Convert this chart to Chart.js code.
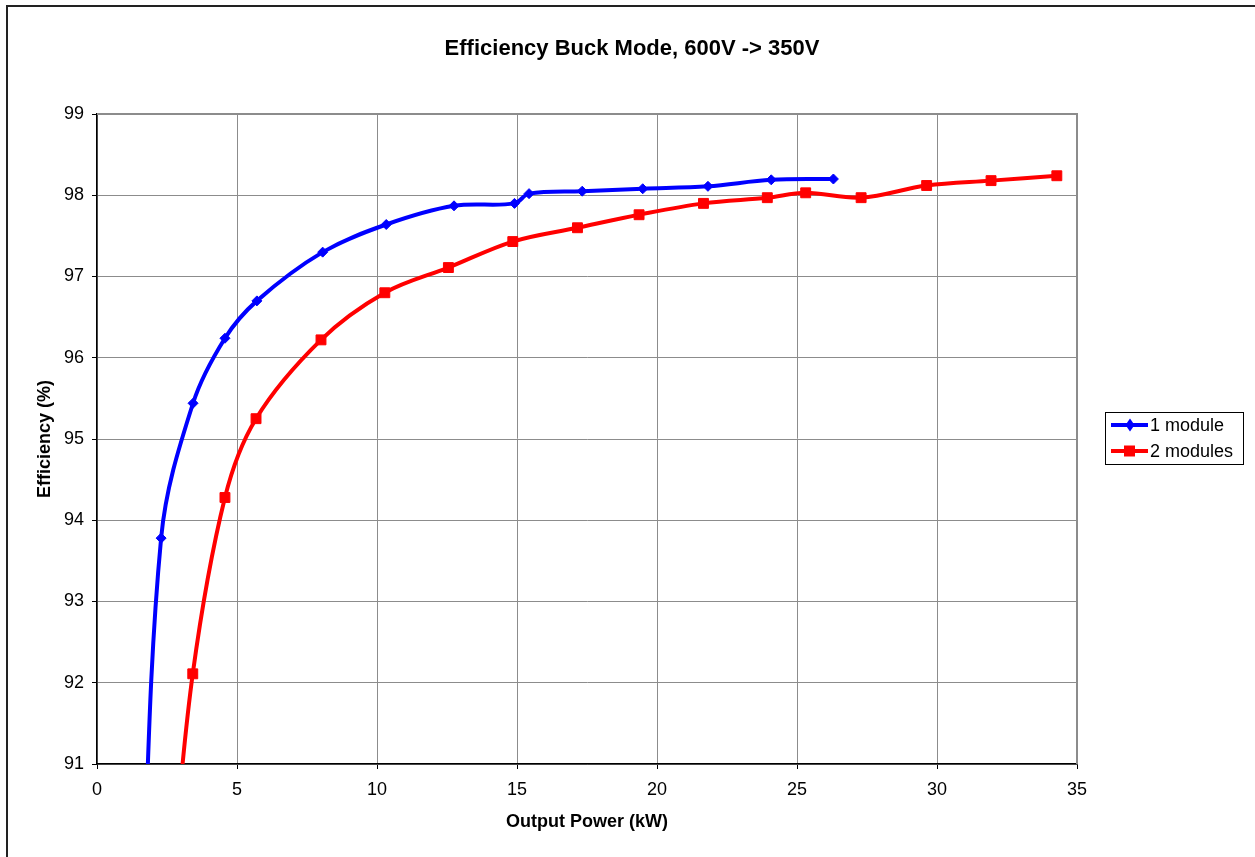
<!DOCTYPE html>
<html lang="en">
<head>
    <meta charset="UTF-8">
    <title>Efficiency Buck Mode</title>
    <script src="https://cdn.jsdelivr.net/npm/chart.js"></script>
    <style>
        body { margin: 0; background: #fff; }
        canvas { display: block; }
    </style>
</head>
<body>
    <canvas id="effChart" width="1255" height="857"></canvas>

    <script>
        // values (output power kW, efficiency %)
        const oneModPower = [1.55, 2.29, 3.43, 4.57, 5.71, 8.06, 10.33, 12.75, 14.91, 15.43, 17.33, 19.49, 21.82, 24.08, 26.30];
        const oneModEff   = [88.5, 93.78, 95.44, 96.24, 96.70, 97.30, 97.64, 97.87, 97.90, 98.02, 98.05, 98.08, 98.11, 98.19, 98.20];
        const twoModPower = [2.6, 3.42, 4.57, 5.68, 8.00, 10.28, 12.55, 14.85, 17.16, 19.36, 21.66, 23.94, 25.31, 27.29, 29.63, 31.93, 34.28];
        const twoModEff   = [89.3, 92.11, 94.28, 95.25, 96.22, 96.80, 97.11, 97.43, 97.60, 97.76, 97.90, 97.97, 98.03, 97.97, 98.12, 98.18, 98.24];
        const seriesNames = ['1 module', '2 modules'];
        const xTicks = [0, 5, 10, 15, 20, 25, 30, 35];
        const yTicks = [91, 92, 93, 94, 95, 96, 97, 98, 99];
        const chartTitle = 'Efficiency Buck Mode, 600V -> 350V';

        const FONT = "Arial, 'Liberation Sans', sans-serif";

        function pts(xs, ys) {
            return xs.map((x, i) => ({ x: x, y: ys[i] }));
        }

        // frame, title, plot border and the Excel style legend
        const extras = {
            id: 'extras',
            beforeDatasetsDraw(chart) {
                const { ctx, chartArea: a } = chart;
                ctx.save();
                ctx.strokeStyle = '#8c8c8c';
                ctx.lineWidth = 2;
                ctx.beginPath();
                ctx.moveTo(a.left, a.top);
                ctx.lineTo(a.right, a.top);
                ctx.lineTo(a.right, a.bottom);
                ctx.stroke();
                ctx.restore();
            },
            afterDraw(chart) {
                const ctx = chart.ctx;
                ctx.save();
                ctx.strokeStyle = '#222';
                ctx.lineWidth = 2;
                ctx.strokeRect(7, 6, 1400, 1000);

                // title centred on the whole chart, as Excel does
                ctx.fillStyle = '#000';
                ctx.font = 'bold 22px ' + FONT;
                ctx.textAlign = 'center';
                ctx.textBaseline = 'middle';
                ctx.fillText(chartTitle, 632, 49);

                ctx.textAlign = 'left';
                ctx.strokeStyle = '#000';
                ctx.lineWidth = 1;
                ctx.strokeRect(1105.5, 412.5, 138, 52);
                ctx.font = '18px ' + FONT;
                chart.data.datasets.forEach((ds, i) => {
                    const y = 425 + i * 26;
                    ctx.strokeStyle = ds.borderColor;
                    ctx.lineWidth = 4;
                    ctx.beginPath();
                    ctx.moveTo(1111, y);
                    ctx.lineTo(1148, y);
                    ctx.stroke();
                    ctx.fillStyle = ds.borderColor;
                    ctx.beginPath();
                    if (ds.pointStyle === 'rect') {
                        ctx.rect(1124, y - 5.5, 11, 11);
                    } else {
                        ctx.moveTo(1130, y - 6.5);
                        ctx.lineTo(1134.5, y);
                        ctx.lineTo(1130, y + 6.5);
                        ctx.lineTo(1125.5, y);
                        ctx.closePath();
                    }
                    ctx.fill();
                    ctx.fillStyle = '#000';
                    ctx.fillText(ds.label, 1150, y + 1);
                });
                ctx.restore();
            }
        };

        const ctx = document.getElementById('effChart').getContext('2d');
        new Chart(ctx, {
            type: 'line',
            data: {
                datasets: [{
                    label: seriesNames[0],
                    data: pts(oneModPower, oneModEff),
                    borderColor: '#0000ff',
                    backgroundColor: '#0000ff',
                    borderWidth: 4,
                    pointStyle: 'rectRot',
                    pointRadius: 5,
                    pointBorderWidth: 1,
                    tension: 0.35,
                    clip: 0
                }, {
                    label: seriesNames[1],
                    data: pts(twoModPower, twoModEff),
                    borderColor: '#ff0000',
                    backgroundColor: '#ff0000',
                    borderWidth: 4,
                    pointStyle: 'rect',
                    pointRadius: 7,
                    pointBorderWidth: 1,
                    tension: 0.35,
                    clip: 0
                }]
            },
            options: {
                responsive: false,
                animation: false,
                layout: { padding: { left: 0, right: 178, top: 114, bottom: 0 } },
                plugins: {
                    legend: { display: false },
                    tooltip: { enabled: false },
                    title: { display: false }
                },
                scales: {
                    x: {
                        type: 'linear',
                        min: xTicks[0],
                        max: xTicks[xTicks.length - 1],
                        afterBuildTicks: s => { s.ticks = xTicks.map(v => ({ value: v })); },
                        afterFit: s => { s.height = 93; },
                        ticks: { color: '#000', padding: 10, maxRotation: 0, font: { family: FONT, size: 18 } },
                        grid: { color: '#8c8c8c', tickColor: '#000', tickLength: 5 },
                        border: { color: '#000', width: 1.5 },
                        title: {
                            display: true,
                            text: 'Output Power (kW)',
                            color: '#000',
                            font: { family: FONT, size: 18, weight: 'bold' },
                            padding: { top: 0, bottom: 24 }
                        }
                    },
                    y: {
                        min: yTicks[0],
                        max: yTicks[yTicks.length - 1],
                        afterBuildTicks: s => { s.ticks = yTicks.map(v => ({ value: v })); },
                        afterFit: s => { s.width = 97; },
                        ticks: { color: '#000', padding: 8, font: { family: FONT, size: 18 } },
                        grid: { color: '#8c8c8c', tickColor: '#000', tickLength: 5 },
                        border: { color: '#000', width: 1.5 },
                        title: {
                            display: true,
                            text: 'Efficiency (%)',
                            color: '#000',
                            font: { family: FONT, size: 18, weight: 'bold' },
                            padding: { top: 34, bottom: 0 }
                        }
                    }
                }
            },
            plugins: [extras]
        });
    </script>
</body>
</html>
